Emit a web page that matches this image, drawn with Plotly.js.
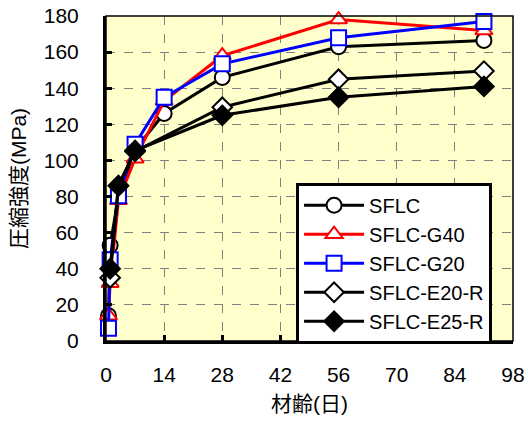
<!DOCTYPE html>
<html>
<head>
<meta charset="utf-8">
<script src="https://cdn.plot.ly/plotly-3.0.1.min.js"></script>
<style>html,body{margin:0;padding:0;background:#fff;}#chart{width:528px;height:423px;}</style>
</head>
<body>
<div id="chart"></div>
<script>
// Data
const seriesNames = ["SFLC", "SFLC-G40", "SFLC-G20", "SFLC-E20-R", "SFLC-E25-R"];
const daysG = [0.6, 1, 3, 7, 14, 28, 56, 91];
const daysE = [1, 3, 7, 28, 56, 91];
const sflc = [14, 53, 80, 106, 126, 146, 163, 166.5];
const sflcG40 = [14, 32, 78, 101, 133, 158, 178, 172];
const sflcG20 = [7, 45, 80.5, 109, 135, 153.5, 168, 177];
const sflcE20R = [35, 86, 105, 129.5, 145, 149.5];
const sflcE25R = [40, 86, 105.5, 125, 135, 141];
const xTicks = [0, 14, 28, 42, 56, 70, 84, 98];
const yTicks = [0, 20, 40, 60, 80, 100, 120, 140, 160, 180];

const FONT = "'Liberation Sans', 'Noto Sans CJK JP', Arial, sans-serif";

function tr(name, x, y, color, symbol, fill) {
  return {
    type: "scatter", mode: "lines+markers", name: name, x: x, y: y,
    line: {color: color, width: 3},
    marker: {symbol: symbol, size: 15, color: fill, line: {color: color, width: 2}},
    cliponaxis: false
  };
}

const data = [
  tr(seriesNames[0], daysG, sflc, "#000000", "circle", "#ffffff"),
  tr(seriesNames[1], daysG, sflcG40, "#ff0000", "triangle-up", "#ffffff"),
  tr(seriesNames[2], daysG, sflcG20, "#0000ff", "square", "#ffffff"),
  tr(seriesNames[3], daysE, sflcE20R, "#000000", "diamond", "#ffffff"),
  tr(seriesNames[4], daysE, sflcE25R, "#000000", "diamond", "#000000")
];

const layout = {
  width: 528, height: 423,
  margin: {l: 106, r: 15, t: 16, b: 82},
  paper_bgcolor: "#ffffff",
  plot_bgcolor: "#ffffcc",
  font: {family: FONT, size: 21, color: "#000000"},
  showlegend: true,
  legend: {
    x: 0.467, y: 0.487, xanchor: "left", yanchor: "top",
    bgcolor: "#ffffff", bordercolor: "#000000", borderwidth: 3,
    font: {family: FONT, size: 20, color: "#000000"},
    tracegroupgap: 0, itemwidth: 60
  },
  xaxis: {
    range: [0, 98], tickvals: xTicks, ticktext: xTicks.map(String),
    showgrid: true, gridcolor: "#808080", griddash: "dash", gridwidth: 1,
    showline: true, linecolor: "#000000", linewidth: 3,
    ticks: "inside", ticklen: 6, tickwidth: 3, tickcolor: "#000000",
    ticklabelstandoff: 13,
    zeroline: false,
    tickfont: {family: FONT, size: 21},
    title: {text: "材齢(日)", font: {family: FONT, size: 21}, standoff: 12}
  },
  yaxis: {
    range: [0, 180], tickvals: yTicks, ticktext: yTicks.map(String),
    showgrid: true, gridcolor: "#808080", griddash: "dash", gridwidth: 1,
    showline: true, linecolor: "#000000", linewidth: 3,
    ticks: "inside", ticklen: 6, tickwidth: 3, tickcolor: "#000000",
    ticklabelstandoff: 20,
    zeroline: false,
    tickfont: {family: FONT, size: 21},
    title: {text: "圧縮強度(MPa)", font: {family: FONT, size: 21}, standoff: 12}
  },
  shapes: [
    {type: "rect", xref: "paper", yref: "paper", x0: 0, x1: 1, y0: 0, y1: 1,
     line: {color: "#000000", width: 1.5}, layer: "above"}
  ]
};

Plotly.newPlot("chart", data, layout, {staticPlot: true, displayModeBar: false});
</script>
</body>
</html>
